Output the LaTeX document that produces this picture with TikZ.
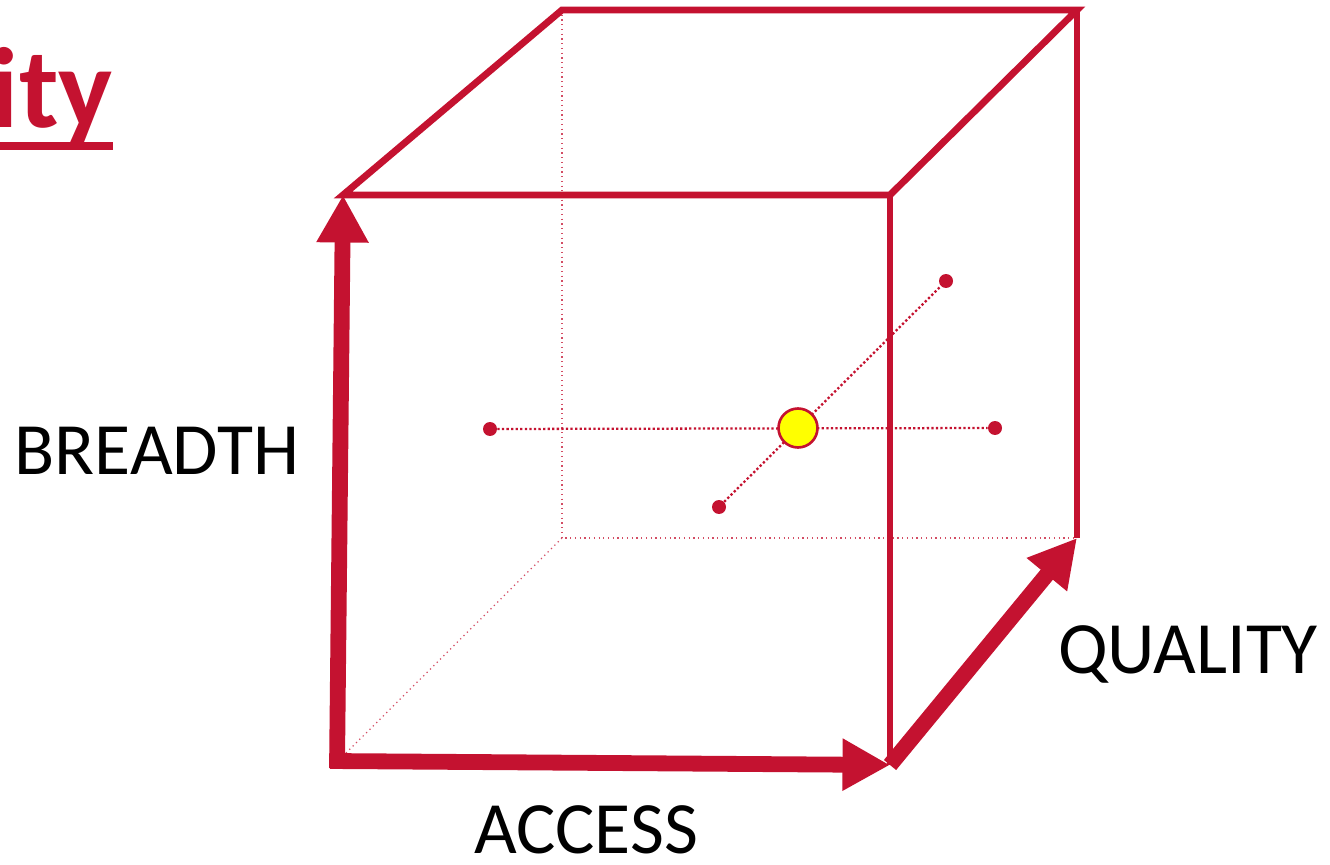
\documentclass[tikz,border=0pt]{standalone}
\usepackage{fontspec}
\setmainfont{Carlito}
\usepackage{tikz}
\usetikzlibrary{arrows.meta}
\definecolor{cubered}{HTML}{C41230}
\definecolor{dotyel}{HTML}{FFFF00}
\tikzset{
  rim/.style={cubered,line width=3.9pt},
  hidden/.style={cubered!75,line width=0.7pt,dotted},
  axar/.style={-{Triangle[length=0.95cm,width=0.98cm]},cubered,line width=9pt},
  probe/.style={cubered,line width=1.3pt,dash pattern=on 1.3pt off 1.3pt},
  pt/.style={circle,fill=cubered,inner sep=0pt,minimum size=0.28cm},
  lbl/.style={font=\fontsize{42}{50}\selectfont,anchor=base,inner sep=0pt}
}
\begin{document}
\begin{tikzpicture}[x=0.02cm,y=-0.02cm]
\useasboundingbox (0,0) rectangle (1330,865);
% cube corners
\coordinate (ftl) at (343,195);
\coordinate (ftr) at (890,195);
\coordinate (fbr) at (890,765);
\coordinate (fbl) at (337,762);
\coordinate (btl) at (562,10);
\coordinate (btr) at (1077,10);
\coordinate (bbr) at (1077,538);
\coordinate (bbl) at (562,538);
% title
\node[anchor=base east,inner sep=0pt,text=cubered,font=\fontsize{65}{70}\selectfont\bfseries] (title) at (113,128) {ity};
\coordinate (ulend) at (113,146);
\draw[cubered,line width=0.16cm] (-5,146) -- (ulend);
% hidden edges
\draw[hidden] (btl) -- (bbl) -- (bbr);
\draw[hidden] (bbl) -- (fbl);
% point in the cube
\node[pt] (pl) at (490,429) {};
\node[pt] (pr) at (995,428) {};
\node[pt] (pu) at (946,281) {};
\node[pt] (pd) at (719,507) {};
\draw[probe] (pl) -- (pr);
\draw[probe] (pd) -- (pu);
\node[circle,draw=cubered,line width=1.5pt,fill=dotyel,inner sep=0pt,minimum size=0.78cm] (pc) at (798,428) {};
% visible edges
\draw[rim,line join=miter] (ftl) -- (btl) -- (btr) -- (ftr) -- cycle;
\draw[rim] (ftr) -- (fbr);
\draw[rim] (btr) -- (bbr);
% axes
\draw[axar] (337,768) -- (ftl);
\draw[axar] (330,761) -- (fbr);
\draw[axar] (fbr) -- (bbr);
\node[lbl] (breadth) at (157,474) {BREADTH};
\node[lbl] (access) at (586,853) {ACCESS};
\node[lbl] (quality) at (1188,673) {QUALITY};
\end{tikzpicture}
\end{document}
